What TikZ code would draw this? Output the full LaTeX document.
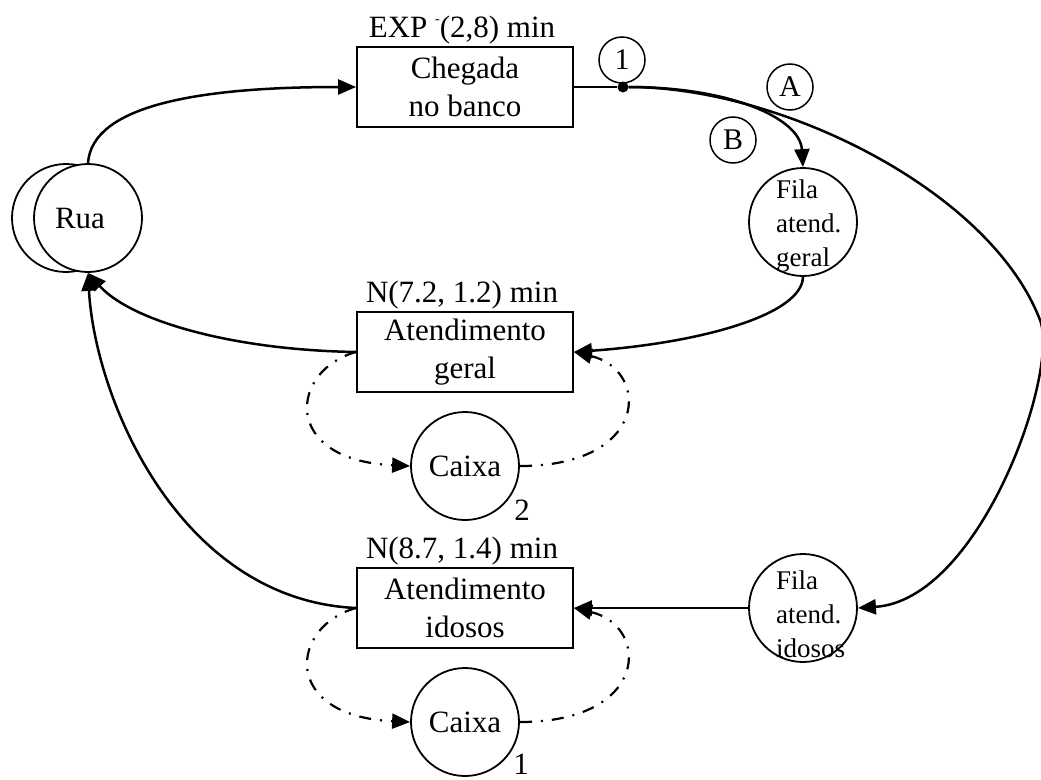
\documentclass[tikz,border=0pt]{standalone}
\usepackage{fontspec}
\setmainfont{Liberation Serif}
\usetikzlibrary{arrows.meta}
\begin{document}
\begin{tikzpicture}[x=1pt,y=-1pt,
  every node/.style={font=\fontsize{31}{38}\selectfont},
  proc/.style={draw, line width=1.8pt, minimum width=216pt, minimum height=80pt, inner sep=0pt, align=center},
  res/.style={draw, circle, line width=1.8pt, minimum size=108pt, inner sep=0pt},
  tag/.style={draw, circle, line width=1.5pt, minimum size=46pt, inner sep=0pt, font=\fontsize{30}{32}\selectfont},
  qtext/.style={font=\fontsize{27}{34}\selectfont, align=left, anchor=west, inner sep=0pt},
  dot/.style={circle, fill=black, minimum size=11pt, inner sep=0pt},
  flow/.style={line width=2.5pt, -{Triangle[length=18pt,width=15pt]}},
  use/.style={line width=2.2pt, dash pattern=on 12pt off 9pt on 2pt off 9pt, -{Triangle[length=18pt,width=15pt]}}
]
\useasboundingbox (0,0) rectangle (1041,779);

% source / sink
\node[res] (ruaback) at (66,218) {};
\node[res, fill=white] (rua) at (88,218) {};
\node (ruatxt) at (80,218) {Rua};

% activities
\node[proc] (cheg) at (465,87) {Chegada\\no banco};
\node[anchor=base] (lblcheg) at (462,37) {EXP \raisebox{0.45em}{\fontsize{14}{14}\selectfont -}(2,8) min};
\node[proc] (ag) at (465,352) {Atendimento\\geral};
\node[anchor=base] (lblag) at (462,302) {N(7.2, 1.2) min};
\node[proc] (ai) at (465,608) {Atendimento\\idosos};
\node[anchor=base] (lblai) at (462,558) {N(8.7, 1.4) min};

% queues
\node[res] (fg) at (803,222) {};
\node[qtext] (fgtxt) at (776,226) {Fila\\atend.\\geral};
\node[res] (fi) at (803,608) {};
\node[qtext] (fitxt) at (776,614) {Fila\\atend.\\idosos};

% resources
\node[res] (cx2) at (465,466) {Caixa};
\node (n2) at (522,510) {2};
\node[res] (cx1) at (465,722) {Caixa};
\node (n1) at (521,764) {1};

% branch point and tags
\node[dot] (split) at (623,87) {};
\node[tag] (t1) at (622,60) {1};
\node[tag] (tA) at (790,87) {A};
\node[tag] (tB) at (733,140) {B};

% arrivals
\draw[flow] (rua.north) .. controls (92,105) and (200,87) .. (cheg.west);
\draw[line width=1.8pt] (cheg.east) -- (split);
\draw[flow] (split) .. controls (730,87) and (800,118) .. (fg.north);
\draw[flow] (split) .. controls (780,87) and (990,190) .. (1040,320)
               .. controls (1060,372) and (980,600) .. (fi.east);

% service
\draw[flow] (fg.south) .. controls (802,315) and (700,343) .. (ag.east);
\draw[flow] (fi.west) -- (ai.east);
\draw[flow] (ag.west) .. controls (230,350) and (130,320) .. (rua.south);
\draw[flow] (ai.west) .. controls (180,600) and (95,400) .. (rua.south);

% resource cycles
\draw[use] (ag.west) .. controls (290,370) and (280,460) .. (cx2.west);
\draw[use] (cx2.east) .. controls (650,466) and (650,370) .. (ag.east);
\draw[use] (ai.west) .. controls (290,626) and (280,716) .. (cx1.west);
\draw[use] (cx1.east) .. controls (650,722) and (650,626) .. (ai.east);
\end{tikzpicture}
\end{document}
